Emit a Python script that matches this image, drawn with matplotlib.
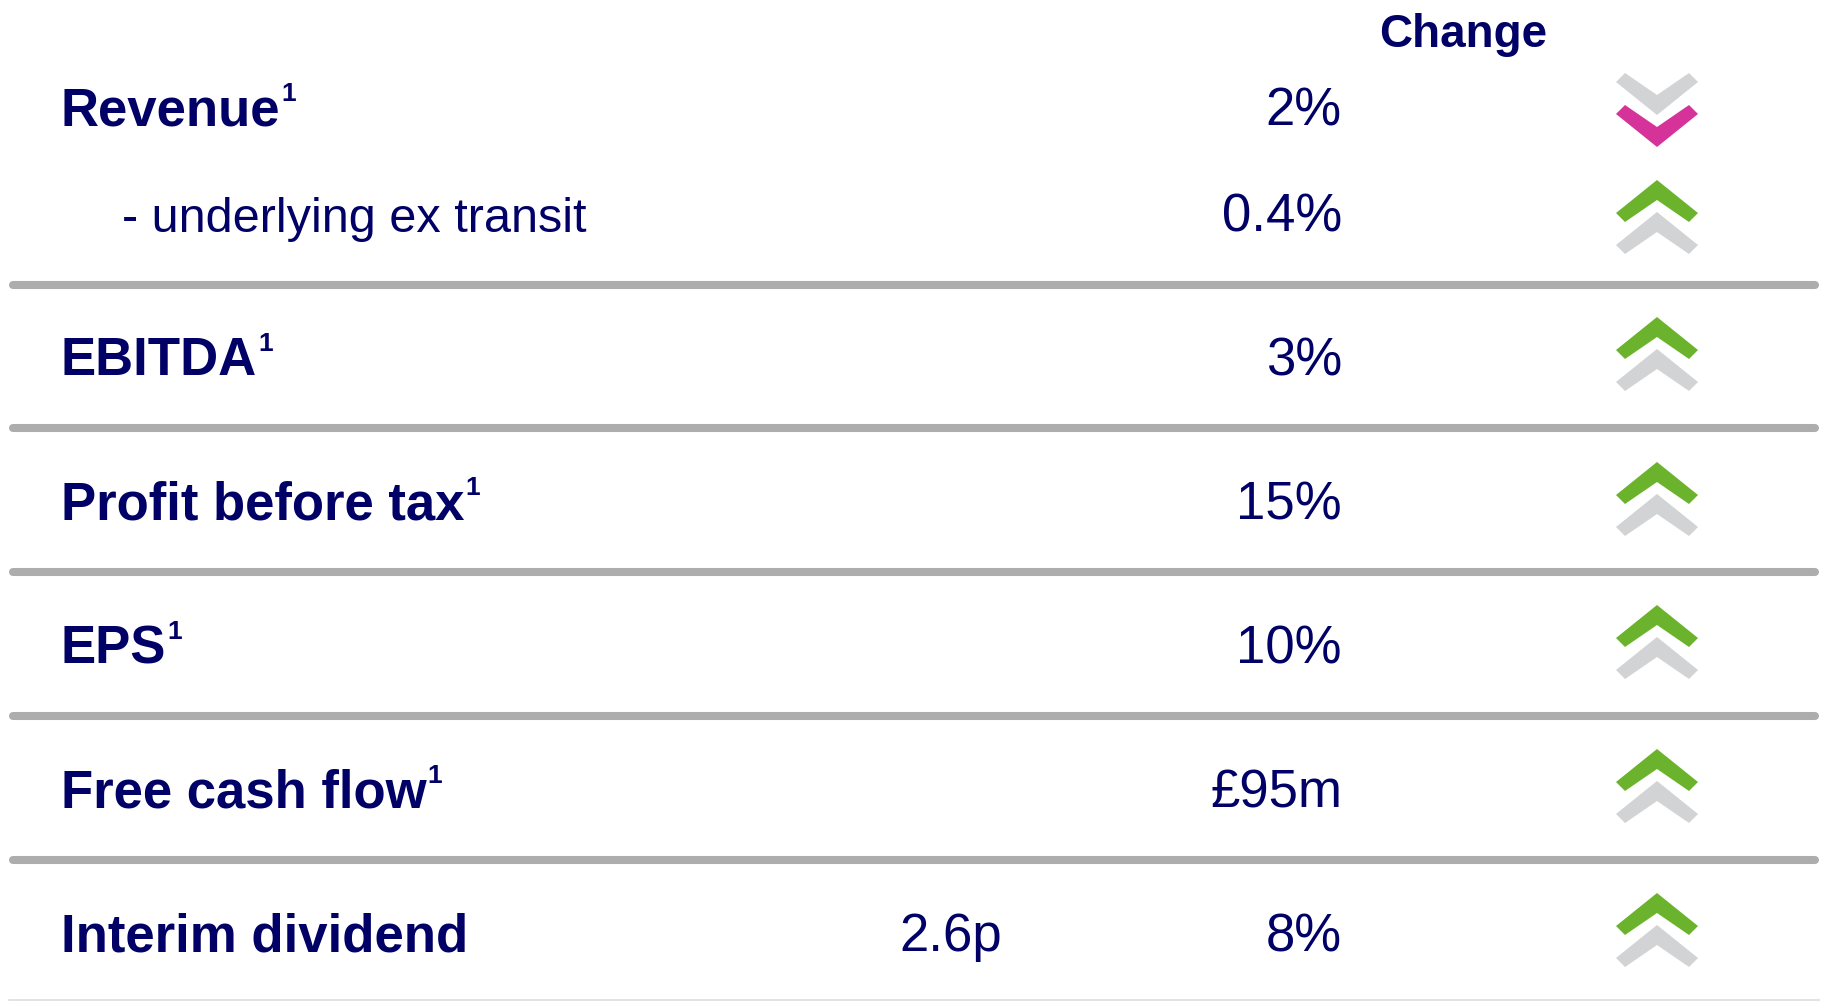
"""Kennzahlen-Tabelle mit Pfeil-Symbolen (Chevrons) nachbauen."""

import matplotlib
matplotlib.use('Agg')
import matplotlib.pyplot as plt
from matplotlib.patches import Polygon

# Daten
labels = ['Revenue', '- underlying ex transit', 'EBITDA', 'Profit before tax',
          'EPS', 'Free cash flow', 'Interim dividend']
footnotes = ['1', '', '1', '1', '1', '1', '']
is_sub = [False, True, False, False, False, False, False]
amounts = ['', '', '', '', '', '', '2.6p']
changes = ['2%', '0.4%', '3%', '15%', '10%', '£95m', '8%']
directions = ['down', 'up', 'up', 'up', 'up', 'up', 'up']
header = 'Change'

# Layout (Pixel)
W, H = 1827, 1001
row_base = [125, 232, 375, 519, 663, 807, 951]
icon_mid = [110, 217, 354, 499, 642, 786, 930]
sep_after = [1, 2, 3, 4, 5]  # Trennlinie nach diesen Zeilen
NAVY = '#000066'
GREEN = '#6CB32D'
MAGENTA = '#D6339A'
LIGHT = '#D2D3D5'
RULE = '#ADADAD'
FONT = 'Liberation Sans'

fig = plt.figure(figsize=(W / 100, H / 100), dpi=100)
ax = fig.add_axes([0, 0, 1, 1])
ax.set_xlim(0, W)
ax.set_ylim(H, 0)
ax.axis('off')
renderer = fig.canvas.get_renderer()


def chevron(cx, cy, up, color):
    """Chevron mit Mittelpunkt (cx, cy); Hoehe 42 px, Breite 82 px (y nach unten)."""
    s = 1 if up else -1
    tip = cy - s * 21
    pts = [(cx, tip), (cx + 41, tip + s * 33), (cx + 32, tip + s * 42),
           (cx, tip + s * 20), (cx - 32, tip + s * 42), (cx - 41, tip + s * 33)]
    ax.add_patch(Polygon(pts, closed=True, facecolor=color, edgecolor='none'))


ax.text(1463, 47, header, fontsize=33, fontweight='bold', color=NAVY,
        family=FONT, ha='center', va='baseline')

for i, lab in enumerate(labels):
    yb = row_base[i]
    if is_sub[i]:
        ax.text(122, yb, lab, fontsize=35, color=NAVY, family=FONT, va='baseline')
    else:
        t = ax.text(61, yb, lab, fontsize=38, fontweight='bold', color=NAVY,
                    family=FONT, va='baseline')
        if footnotes[i]:
            bb = t.get_window_extent(renderer)
            ax.text(bb.x1 + 1, yb - 24, footnotes[i], fontsize=19, fontweight='bold',
                    color=NAVY, family=FONT, va='baseline')
    if amounts[i]:
        ax.text(1002, yb, amounts[i], fontsize=38, color=NAVY, family=FONT,
                ha='right', va='baseline')
    ax.text(1342, yb, changes[i], fontsize=38, color=NAVY, family=FONT,
            ha='right', va='baseline')

    cy = icon_mid[i]
    cx = 1657
    if directions[i] == 'up':
        chevron(cx, cy + 16, True, LIGHT)
        chevron(cx, cy - 16, True, GREEN)
    else:
        chevron(cx, cy - 16, False, LIGHT)
        chevron(cx, cy + 16, False, MAGENTA)

for k in sep_after:
    y = (row_base[k] + row_base[k + 1]) / 2 - 19
    ax.plot([13, 1815], [y, y], color=RULE, lw=5.8, solid_capstyle='round')
ax.plot([9, 1819], [1000, 1000], color='#DDDDDD', lw=1.2)

fig.savefig('out.png', dpi=100)
